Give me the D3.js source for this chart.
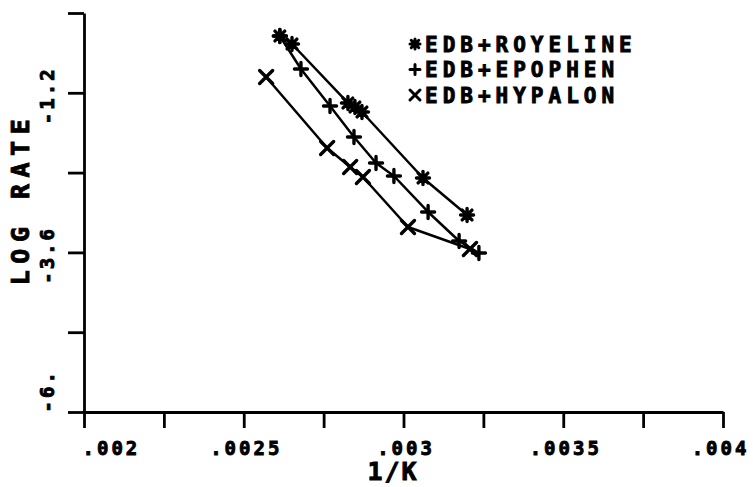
<!DOCTYPE html>
<html>
<head>
<meta charset="utf-8">
<script src="https://cdn.jsdelivr.net/npm/d3@7"></script>
<style>
  html, body { margin: 0; padding: 0; background: #fff; }
  svg { display: block; }
  text { font-family: "DejaVu Sans Mono", monospace; font-weight: bold; fill: #000; stroke: #000; stroke-width: 0.9px; }
</style>
</head>
<body>
<svg id="chart" width="753" height="487"></svg>
<script>
// ---- data ----
const seriesNames = ["EDB+ROYELINE", "EDB+EPOPHEN", "EDB+HYPALON"];
const markerTypes = ["asterisk", "plus", "times"];

const royelineX = [0.002613, 0.002651, 0.002826, 0.002848, 0.002870, 0.003061, 0.003199];
const royelineY = [-0.346, -0.466, -1.353, -1.414, -1.489, -2.481, -3.038];

const epophenX = [0.002613, 0.002679, 0.002770, 0.002845, 0.002914, 0.002970, 0.003077, 0.003174, 0.003236];
const epophenY = [-0.346, -0.842, -1.398, -1.865, -2.256, -2.451, -2.992, -3.429, -3.609];

const hypalonX = [0.002570, 0.002761, 0.002833, 0.002873, 0.003014, 0.003208];
const hypalonY = [-0.962, -2.030, -2.316, -2.466, -3.218, -3.549];

const xTickValues = [0.002, 0.00225, 0.0025, 0.00275, 0.003, 0.00325, 0.0035, 0.00375, 0.004];
const xTickLabels = [".002", "", ".0025", "", ".003", "", ".0035", "", ".004"];
const yTickValues = [-6, -4.8, -3.6, -2.4, -1.2, 0];
const yTickLabels = ["-6.", "", "-3.6", "", "-1.2", ""];

const xTitle = "1/K";
const yTitle = "LOG RATE";

// ---- chart ----
const svg = d3.select("#chart");
const x = d3.scaleLinear().domain([0.002, 0.004]).range([84, 723]);
const y = d3.scaleLinear().domain([-6, 0]).range([412, 13]);

const xAxis = d3.axisBottom(x)
  .tickValues(xTickValues)
  .tickFormat((d, i) => xTickLabels[i])
  .tickSizeInner(16).tickSizeOuter(0).tickPadding(10);
const yAxis = d3.axisLeft(y)
  .tickValues(yTickValues)
  .tickFormat((d, i) => yTickLabels[i])
  .tickSizeInner(16).tickSizeOuter(0).tickPadding(0);

const gx = svg.append("g").attr("transform", `translate(0,${y(-6)})`).call(xAxis);
const gy = svg.append("g").attr("transform", `translate(${x(0.002)},0)`).call(yAxis);

[gx, gy].forEach(g => {
  g.selectAll("path.domain").attr("stroke", "#000").attr("stroke-width", 2.8);
  g.selectAll(".tick line").attr("stroke", "#000").attr("stroke-width", 2.8);
});

const nX = xTickValues.length;
gx.selectAll(".tick text")
  .style("font-family", '"DejaVu Sans Mono", monospace')
  .style("font-weight", "bold")
  .style("font-size", "19px")
  .style("letter-spacing", "3px")
  .attr("fill", "#000")
  .attr("dy", "0.9em")
  .attr("text-anchor", (d, i) => i === 0 ? "start" : "middle")
  .attr("x", (d, i) => i === 0 ? -2 : (i === nX - 1 ? -3 : 2));

gy.selectAll(".tick text")
  .style("font-family", '"DejaVu Sans Mono", monospace')
  .style("font-weight", "bold")
  .style("font-size", "19px")
  .style("letter-spacing", "3px")
  .attr("fill", "#000")
  .attr("x", null).attr("dy", null)
  .attr("text-anchor", (d, i) => i === 0 ? "start" : "middle")
  .attr("transform", (d, i) => `translate(-30,${i === 0 ? 0 : 2}) rotate(-90)`);

// axis titles
svg.append("text")
  .attr("x", 393).attr("y", 480)
  .attr("text-anchor", "middle")
  .style("font-size", "25px").style("letter-spacing", "2px")
  .text(xTitle);

svg.append("text")
  .attr("transform", "translate(29,199) rotate(-90)")
  .attr("text-anchor", "middle")
  .style("font-size", "25px").style("letter-spacing", "6.5px")
  .text(yTitle);

// markers
function markerPath(type, s) {
  const p = d3.path();
  if (type === "plus" || type === "asterisk") {
    p.moveTo(-s, 0); p.lineTo(s, 0);
    p.moveTo(0, -s); p.lineTo(0, s);
  }
  if (type === "times" || type === "asterisk") {
    const k = type === "asterisk" ? s * 0.75 : s;
    p.moveTo(-k, -k); p.lineTo(k, k);
    p.moveTo(-k, k); p.lineTo(k, -k);
  }
  return p.toString();
}

const series = [
  { name: seriesNames[0], marker: markerTypes[0], xs: royelineX, ys: royelineY },
  { name: seriesNames[1], marker: markerTypes[1], xs: epophenX, ys: epophenY },
  { name: seriesNames[2], marker: markerTypes[2], xs: hypalonX, ys: hypalonY }
];

const line = d3.line().x(d => x(d[0])).y(d => y(d[1]));

series.forEach(s => {
  const pts = s.xs.map((v, i) => [v, s.ys[i]]);
  svg.append("path")
    .attr("d", line(pts))
    .attr("fill", "none").attr("stroke", "#000").attr("stroke-width", 2.5)
    .attr("stroke-linejoin", "round");
  svg.append("g").selectAll("path").data(pts).join("path")
    .attr("transform", d => `translate(${x(d[0])},${y(d[1])})`)
    .attr("d", markerPath(s.marker, 6.5))
    .attr("fill", "none").attr("stroke", "#000").attr("stroke-width", 3.4)
    .attr("stroke-linecap", "round");
});

// legend
const legend = svg.append("g").attr("transform", "translate(415,44)");
series.forEach((s, i) => {
  const g = legend.append("g").attr("transform", `translate(0,${i * 25.5})`);
  g.append("path")
    .attr("d", markerPath(s.marker, 5))
    .attr("fill", "none").attr("stroke", "#000").attr("stroke-width", 3)
    .attr("stroke-linecap", "round");
  g.append("text")
    .attr("x", 10).attr("y", 0).attr("dy", "0.36em")
    .style("font-size", "21px").style("letter-spacing", "5px")
    .text(s.name);
});
</script>
</body>
</html>
